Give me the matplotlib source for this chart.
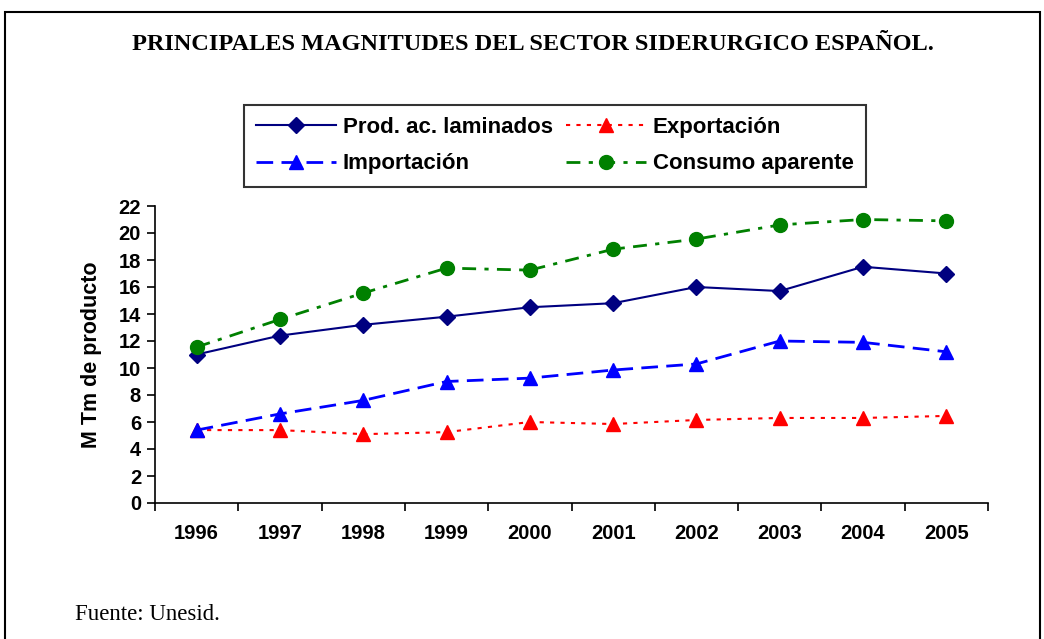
import matplotlib

matplotlib.use("Agg")
import matplotlib.pyplot as plt
from matplotlib.patches import Rectangle

years = ["1996", "1997", "1998", "1999", "2000", "2001", "2002", "2003", "2004", "2005"]
prod_laminados = [11.0, 12.4, 13.2, 13.8, 14.5, 14.8, 16.0, 15.7, 17.5, 17.0]
exportacion = [5.4, 5.4, 5.1, 5.25, 6.0, 5.85, 6.15, 6.3, 6.3, 6.45]
importacion = [5.4, 6.6, 7.6, 9.0, 9.25, 9.85, 10.3, 12.0, 11.9, 11.2]
consumo = [11.55, 13.6, 15.55, 17.4, 17.25, 18.8, 19.55, 20.6, 21.0, 20.9]

sans = ["Liberation Sans", "DejaVu Sans"]
serif = ["Liberation Serif", "DejaVu Serif"]

fig = plt.figure(figsize=(10.44, 6.39), dpi=100)
fig.patches.append(Rectangle((5 / 1044, -0.1), 1035 / 1044, 1.1 - 12 / 639,
                             transform=fig.transFigure, fill=False,
                             edgecolor="black", linewidth=1.5))

ax = fig.add_axes([155 / 1044, 1 - 503 / 639, 833 / 1044, 297 / 639])
x = list(range(len(years)))

h_prod, = ax.plot(x, prod_laminados, color="#000080", linestyle="-", linewidth=1.5,
                  marker="D", markersize=8, label="Prod. ac. laminados")
h_exp, = ax.plot(x, exportacion, color="#ff0000", linestyle=(0, (2, 3)), linewidth=1.5,
                 marker="^", markersize=10, label="Exportación")
h_imp, = ax.plot(x, importacion, color="#0000ff", linestyle=(0, (6, 3)), linewidth=2,
                 marker="^", markersize=10, label="Importación")
h_con, = ax.plot(x, consumo, color="#008000", linestyle=(0, (5, 3, 1.5, 3)), linewidth=2,
                 marker="o", markersize=10, label="Consumo aparente")

ax.set_xlim(-0.5, len(years) - 0.5)
ax.set_ylim(0, 22)
ax.set_yticks(range(0, 23, 2))
ax.set_xticks([i - 0.5 for i in range(len(years) + 1)])
ax.set_xticklabels([])
ax.set_xticks(x, minor=True)
ax.set_xticklabels(years, minor=True, fontfamily=sans, fontweight="bold", fontsize=14.5)
ax.tick_params(axis="x", which="minor", length=0, pad=15)
ax.tick_params(axis="x", which="major", length=6, width=1.2, direction="out")
ax.tick_params(axis="y", length=6, width=1.2, direction="out", pad=4)
for lab in ax.get_yticklabels():
    lab.set_fontfamily(sans)
    lab.set_fontweight("bold")
    lab.set_fontsize(14.5)
ax.spines["top"].set_visible(False)
ax.spines["right"].set_visible(False)
ax.spines["left"].set_linewidth(1.2)
ax.spines["bottom"].set_linewidth(1.2)
ax.set_ylabel("M Tm de producto", fontfamily=sans, fontweight="bold", fontsize=15.5, labelpad=12)

# row-wise order like the original: column 1 = Prod, Import; column 2 = Export, Consumo
leg = fig.legend([h_prod, h_imp, h_exp, h_con],
                 ["Prod. ac. laminados", "Importación", "Exportación", "Consumo aparente"],
                 loc="center", bbox_to_anchor=(555 / 1044, 1 - 145.5 / 639), ncol=2,
                 prop={"family": sans, "weight": "bold", "size": 16},
                 handlelength=3.6, columnspacing=0.6, labelspacing=0.7,
                 handletextpad=0.3, borderpad=0.55, borderaxespad=0,
                 fancybox=False, frameon=True)
leg.get_frame().set_edgecolor("black")
leg.get_frame().set_linewidth(1.5)

fig.text(533 / 1044, 1 - 44 / 639, "PRINCIPALES MAGNITUDES DEL SECTOR SIDERURGICO ESPAÑOL.",
         ha="center", va="center", fontfamily=serif, fontweight="bold", fontsize=17.5)
fig.text(75 / 1044, 1 - 614 / 639, "Fuente: Unesid.", ha="left", va="center",
         fontfamily=serif, fontsize=16.5)

fig.savefig("out.png", dpi=100)
